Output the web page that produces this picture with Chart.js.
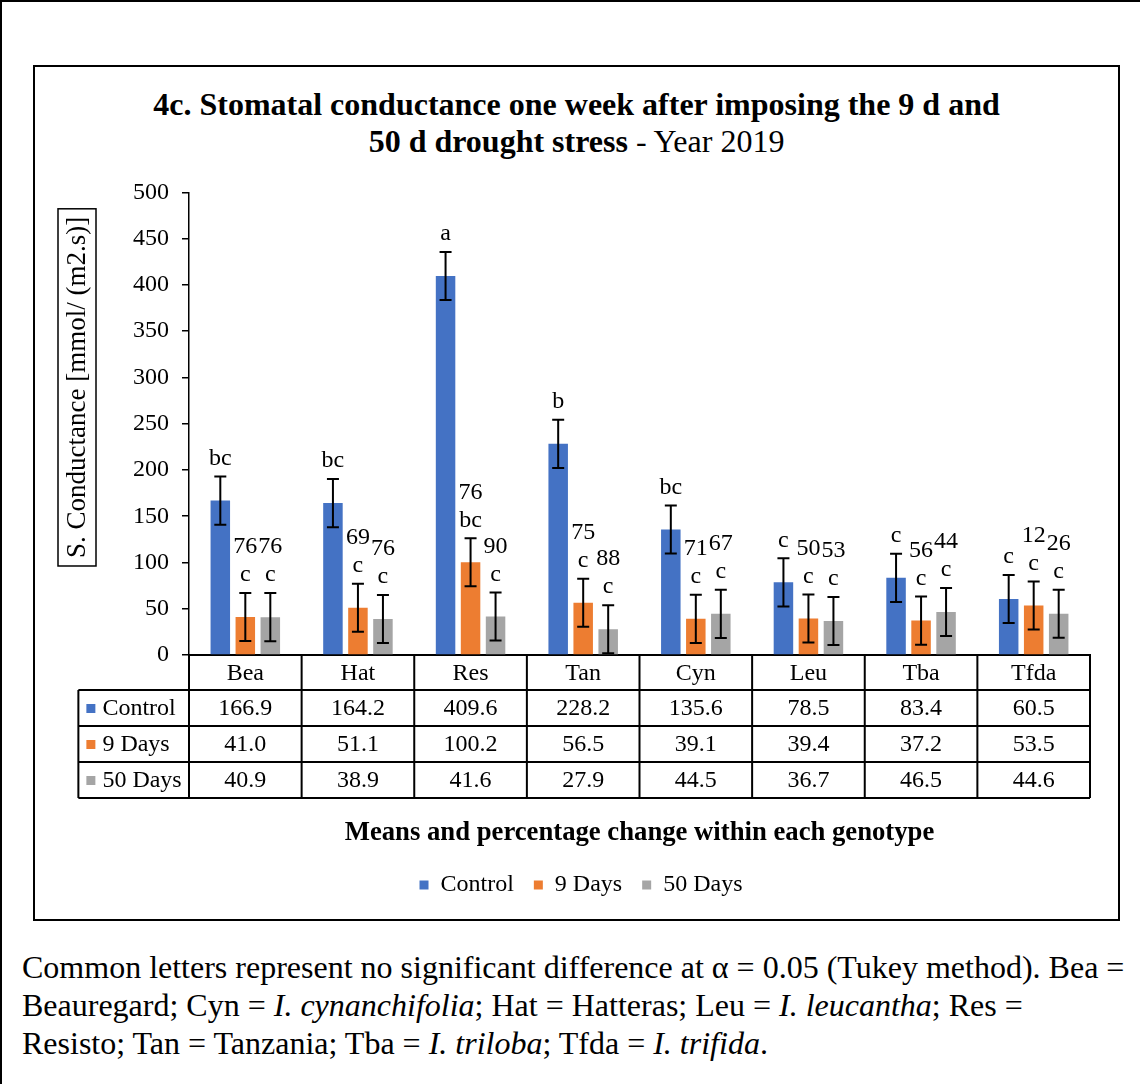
<!DOCTYPE html>
<html>
<head>
<meta charset="utf-8">
<script src="https://cdn.jsdelivr.net/npm/chart.js@4.4.1/dist/chart.umd.min.js"></script>
<style>
  body { margin: 0; background: #fff; font-family: 'Liberation Serif', 'Times New Roman', serif; }
  #page { position: relative; width: 1140px; height: 1084px; overflow: hidden; }
  .frameTop { position: absolute; left: 0; top: 0; width: 1140px; height: 2px; background: #000; }
  .frameLeft { position: absolute; left: 0; top: 0; width: 2px; height: 1084px; background: #000; }
  #box { position: absolute; left: 33px; top: 65px; width: 1087px; height: 856px; border: 2px solid #000; box-sizing: border-box; }
  #title { position: absolute; left: 33px; top: 86px; width: 1087px; text-align: center; font-size: 32px; line-height: 37px; color: #000; }
  #wrap { position: absolute; left: 35px; top: 165px; width: 1082px; height: 750px; }
  #caption { position: absolute; left: 22px; top: 948px; font-size: 32px; line-height: 38px; white-space: nowrap; color: #000; }
</style>
</head>
<body>
<div id="page">
  <div class="frameTop"></div>
  <div class="frameLeft"></div>
  <div id="box"></div>
  <div id="title"><b>4c. Stomatal conductance one week after imposing the 9 d and<br>50 d drought stress</b> - Year 2019</div>
  <div id="wrap"><canvas id="chart" width="1082" height="750"></canvas></div>
  <div id="caption">Common letters represent no significant difference at α = 0.05 (Tukey method). Bea =<br>Beauregard; Cyn = <i>I. cynanchifolia</i>; Hat = Hatteras; Leu = <i>I. leucantha</i>; Res =<br>Resisto; Tan = Tanzania; Tba = <i>I. triloba</i>; Tfda = <i>I. trifida</i>.</div>
</div>
<script>
// genotypes and series
const categories = ['Bea', 'Hat', 'Res', 'Tan', 'Cyn', 'Leu', 'Tba', 'Tfda'];
const seriesNames = ['Control', '9 Days', '50 Days'];
const seriesColors = ['#4472C4', '#ED7D31', '#A5A5A5'];

// means
const controlValues = [166.9, 164.2, 409.6, 228.2, 135.6, 78.5, 83.4, 60.5];
const days9Values = [41.0, 51.1, 100.2, 56.5, 39.1, 39.4, 37.2, 53.5];
const days50Values = [40.9, 38.9, 41.6, 27.9, 44.5, 36.7, 46.5, 44.6];

// error bar half-lengths
const controlErrors = [26, 26, 26, 26, 26, 26, 26, 26];
const days9Errors = [26, 26, 26, 26, 26, 26, 26, 26];
const days50Errors = [26, 26, 26, 26, 26, 26, 26, 26];

// Tukey letters
const controlLetters = ['bc', 'bc', 'a', 'b', 'bc', 'c', 'c', 'c'];
const days9Letters = ['c', 'c', 'bc', 'c', 'c', 'c', 'c', 'c'];
const days50Letters = ['c', 'c', 'c', 'c', 'c', 'c', 'c', 'c'];

// percentage change vs control
const days9Pct = ['76', '69', '76', '75', '71', '50', '56', '12'];
const days50Pct = ['76', '76', '90', '88', '67', '53', '44', '26'];

// y axis ticks
const yMin = 0;
const yMax = 500;
const yStep = 50;

const FONT = "'Liberation Serif', 'Times New Roman', serif";

const allValues = [controlValues, days9Values, days50Values];
const allErrors = [controlErrors, days9Errors, days50Errors];
const allLetters = [controlLetters, days9Letters, days50Letters];
const allPct = [null, days9Pct, days50Pct];

// error bars + letters + percentages above the bars
const errorBarPlugin = {
    id: 'errorBars',
    afterDatasetsDraw(chart) {
        const ctx = chart.ctx;
        const yScale = chart.scales.y;
        ctx.save();
        ctx.strokeStyle = '#000';
        ctx.lineWidth = 2;
        ctx.fillStyle = '#000';
        ctx.textAlign = 'center';
        ctx.textBaseline = 'middle';
        ctx.font = '24px ' + FONT;
        allValues.forEach((vals, d) => {
            const meta = chart.getDatasetMeta(d);
            meta.data.forEach((bar, i) => {
                const v = vals[i];
                const e = allErrors[d][i];
                const yTop = yScale.getPixelForValue(v + e);
                const yBot = yScale.getPixelForValue(Math.max(v - e, 0));
                const cx = bar.x;
                ctx.beginPath();
                ctx.moveTo(cx, yTop); ctx.lineTo(cx, yBot);
                ctx.moveTo(cx - 6, yTop); ctx.lineTo(cx + 6, yTop);
                ctx.moveTo(cx - 6, yBot); ctx.lineTo(cx + 6, yBot);
                ctx.stroke();
                ctx.fillText(allLetters[d][i], cx, yTop - 18);
                if (allPct[d]) {
                    ctx.fillText(allPct[d][i], cx, yTop - 46);
                }
            });
        });
        ctx.restore();
    }
};

// data table under the axis, y title box, x title
const tablePlugin = {
    id: 'dataTable',
    afterDraw(chart) {
        const ctx = chart.ctx;
        const area = chart.chartArea;
        const xScale = chart.scales.x;
        const n = categories.length;
        const w = (area.right - area.left) / n;
        const top = area.bottom;
        const headH = 35, rowH = 36;
        const bottom = top + headH + 3 * rowH;
        const left = area.left - w + 2;

        ctx.save();
        ctx.strokeStyle = '#000';
        ctx.lineWidth = 2;
        ctx.beginPath();
        for (let k = 0; k <= n; k++) {
            const xx = area.left + k * w;
            ctx.moveTo(xx, top); ctx.lineTo(xx, bottom);
        }
        ctx.moveTo(left, top + headH); ctx.lineTo(left, bottom);
        for (let r = 0; r <= 3; r++) {
            const yy = top + headH + r * rowH;
            ctx.moveTo(left, yy); ctx.lineTo(area.right, yy);
        }
        ctx.stroke();

        ctx.fillStyle = '#000';
        ctx.font = '24px ' + FONT;
        ctx.textBaseline = 'middle';
        allValues.forEach((vals, r) => {
            const cy = top + headH + r * rowH + rowH / 2 + 1;
            ctx.textAlign = 'center';
            vals.forEach((v, i) => {
                ctx.fillText(v.toFixed(1), xScale.getPixelForValue(i), cy);
            });
            ctx.fillStyle = seriesColors[r];
            ctx.fillRect(left + 8, cy - 5, 9, 9);
            ctx.fillStyle = '#000';
            ctx.textAlign = 'left';
            ctx.fillText(seriesNames[r], left + 24, cy);
        });

        // x axis title
        ctx.font = 'bold 26.7px ' + FONT;
        ctx.textAlign = 'center';
        ctx.fillText('Means and percentage change within each genotype', (area.left + area.right) / 2, bottom + 35);

        // boxed, rotated y axis title
        const ytitle = 'S. Conductance [mmol/ (m2.s)]';
        ctx.font = '27px ' + FONT;
        const tw = ctx.measureText(ytitle).width;
        const cx = area.left - 112;
        const cy = area.top + 195;
        ctx.translate(cx, cy);
        ctx.rotate(-Math.PI / 2);
        ctx.fillText(ytitle, 0, 1);
        ctx.lineWidth = 1.5;
        ctx.strokeRect(-tw / 2 - 8, -19, tw + 16, 38);
        ctx.restore();
    }
};

const chart = new Chart(document.getElementById('chart').getContext('2d'), {
    type: 'bar',
    data: {
        labels: categories,
        datasets: seriesNames.map((name, d) => ({
            label: name,
            data: allValues[d],
            backgroundColor: seriesColors[d],
            borderWidth: 0,
            categoryPercentage: 0.666,
            barPercentage: 0.78
        }))
    },
    options: {
        responsive: false,
        animation: false,
        layout: { padding: { top: 8, right: 27, bottom: 8, left: 37 } },
        plugins: {
            title: { display: false },
            tooltip: { enabled: false },
            legend: {
                display: true,
                position: 'bottom',
                labels: {
                    boxWidth: 9,
                    boxHeight: 9,
                    padding: 20,
                    color: '#000',
                    font: { family: FONT, size: 24 }
                }
            }
        },
        scales: {
            x: {
                grid: { display: false, drawTicks: false },
                border: { display: true, color: '#000', width: 2 },
                ticks: { color: '#000', padding: 4, font: { family: FONT, size: 24 } },
                afterFit(scale) { scale.height = 198; }
            },
            y: {
                min: yMin,
                max: yMax,
                grid: { drawOnChartArea: false, drawTicks: true, tickLength: 7, color: '#000', lineWidth: 1.5 },
                border: { display: true, color: '#000', width: 1.5 },
                ticks: { stepSize: yStep, color: '#000', padding: 13, font: { family: FONT, size: 24 } },
                afterFit(scale) { scale.width = 117; }
            }
        }
    },
    plugins: [errorBarPlugin, tablePlugin]
});
</script>
</body>
</html>
